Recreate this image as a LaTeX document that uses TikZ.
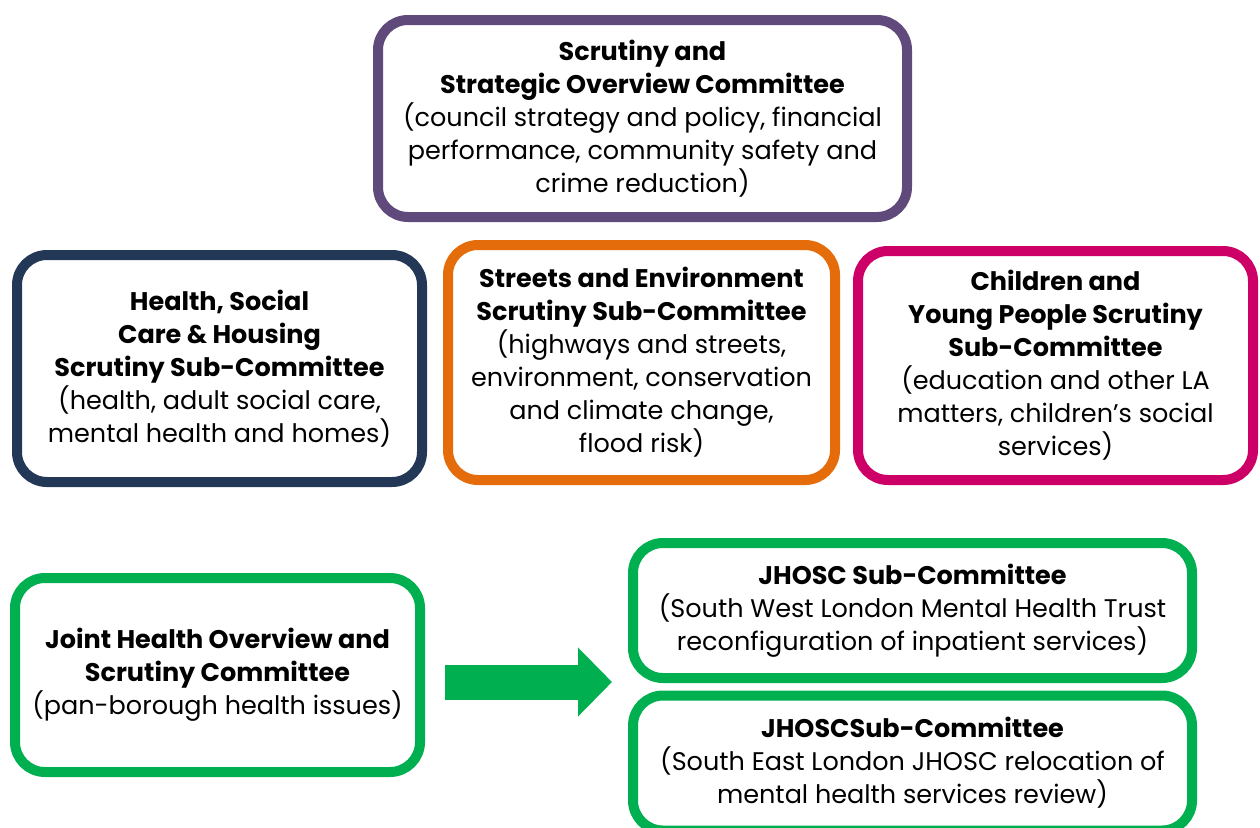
\documentclass[tikz,border=0pt]{standalone}
\usepackage{fontspec}
\setmainfont{Poppins}
\usetikzlibrary{arrows.meta}
\definecolor{sspurple}{HTML}{604A7B}
\definecolor{ssnavy}{HTML}{233856}
\definecolor{ssorange}{HTML}{E46C0A}
\definecolor{sspink}{HTML}{CC0066}
\definecolor{ssgreen}{HTML}{00B050}
\begin{document}
\begin{tikzpicture}[x=1pt,y=-1pt]
    \tikzstyle{every node}=[draw,line width=10pt,rounded corners=30pt,align=center,
      font=\fontsize{25.5}{33}\selectfont,inner sep=0pt];
    \useasboundingbox (0,0) rectangle (1260,827);
    % top committee
    \node[sspurple,text=black,minimum width=529,minimum height=197] (scrutiny) at (642.5,118.5)
      {\textbf{Scrutiny and}\\\textbf{Strategic Overview Committee}\\(council strategy and policy, financial\\performance, community safety and\\crime reduction)};
    % sub-committees
    \node[ssnavy,text=black,minimum width=405,minimum height=227] (health) at (219.5,368.5)
      {\textbf{Health, Social}\\\textbf{Care \& Housing}\\\textbf{Scrutiny Sub-Committee}\\(health, adult social care,\\mental health and homes)};
    \node[ssorange,text=black,minimum width=387,minimum height=235] (streets) at (641.5,362.5)
      {\textbf{Streets and Environment}\\\textbf{Scrutiny Sub-Committee}\\(highways and streets,\\environment, conservation\\and climate change,\\flood risk)};
    \node[sspink,text=black,minimum width=395,minimum height=229] (children) at (1055.5,365.5)
      {\textbf{Children and}\\\textbf{Young People Scrutiny}\\\textbf{Sub-Committee}\\(education and other LA\\matters, children’s social\\services)};
    % joint health
    \node[ssgreen,text=black,minimum width=405,minimum height=194] (jhosc) at (217.5,675)
      {\textbf{Joint Health Overview and}\\\textbf{Scrutiny Committee}\\(pan-borough health issues)};
    \node[ssgreen,text=black,minimum width=559,minimum height=135] (swl) at (912.5,610.5)
      {\textbf{JHOSC Sub-Committee}\\(South West London Mental Health Trust\\reconfiguration of inpatient services)};
    \node[ssgreen,text=black,minimum width=559,minimum height=135] (sel) at (912.5,763)
      {\textbf{JHOSCSub-Committee}\\(South East London JHOSC relocation of\\mental health services review)};
    \coordinate (from) at ([xshift=20pt]jhosc.east |- 0,682);
    \coordinate (to) at ([xshift=-16pt]swl.west |- 0,682);
    \draw[ssgreen,line width=35pt,-{Triangle[length=34pt,width=67pt]}] (from) -- (to);
\end{tikzpicture}
\end{document}
